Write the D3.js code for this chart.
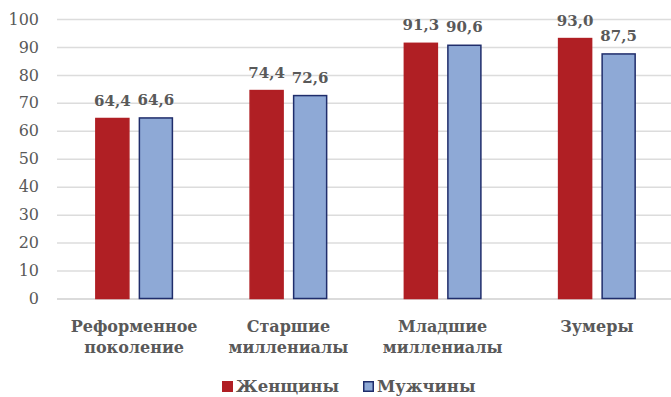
<!DOCTYPE html>
<html>
<head>
<meta charset="utf-8">
<script src="https://cdn.jsdelivr.net/npm/d3@7"></script>
<style>
  html, body { margin: 0; padding: 0; background: #fff; }
  svg { display: block; }
</style>
</head>
<body>
<svg id="chart" width="671" height="397"></svg>
<script>
// Generations and shares for women / men
const categories = [
  ["Реформенное", "поколение"],
  ["Старшие", "миллениалы"],
  ["Младшие", "миллениалы"],
  ["Зумеры"]
];
const women = [64.4, 74.4, 91.3, 93.0];
const men = [64.6, 72.6, 90.6, 87.5];
const seriesNames = ["Женщины", "Мужчины"];
const yTicks = [0, 10, 20, 30, 40, 50, 60, 70, 80, 90, 100];

const W = 671, H = 397;
const margin = { top: 19, right: -3, bottom: 98, left: 57 };
const font = "'DejaVu Serif', serif";
const textColor = "#595959";
const fills = ["#B01F24", "#8EA9D6"];
const strokes = ["#B01F24", "#1F2D6B"];

const svg = d3.select("#chart");
const x0 = d3.scaleBand()
  .domain(d3.range(categories.length))
  .range([margin.left, W - margin.right])
  .paddingInner(0.494)
  .paddingOuter(0.247);
const x1 = d3.scaleBand()
  .domain([0, 1])
  .range([0, x0.bandwidth()])
  .paddingInner(0.207);
const y = d3.scaleLinear().domain([0, 100]).range([H - margin.bottom - 0.5, margin.top]);

// grid lines and tick labels
const yAxis = d3.axisLeft(y).tickValues(yTicks).tickSize(-(W - margin.left)).tickFormat(d3.format("d"));
const gy = svg.append("g").attr("transform", `translate(${margin.left},0)`).call(yAxis);
gy.select(".domain").remove();
gy.selectAll(".tick line").attr("stroke", d => d === 0 ? "#cfcfcf" : "#dcdcdc").attr("stroke-width", 1.5);
gy.selectAll(".tick text")
  .attr("x", -18)
  .attr("fill", textColor)
  .style("font-family", font)
  .style("font-size", "16px");

// bars
const data = categories.map((c, i) => ({ i, vals: [women[i], men[i]] }));
const groups = svg.append("g").selectAll("g").data(data).join("g")
  .attr("transform", d => `translate(${x0(d.i)},0)`);

groups.selectAll("rect").data(d => d.vals.map((v, s) => ({ v, s }))).join("rect")
  .attr("x", d => x1(d.s) + 0.75)
  .attr("width", x1.bandwidth() - 1.5)
  .attr("y", d => y(d.v))
  .attr("height", d => y(0) - y(d.v))
  .attr("fill", d => fills[d.s])
  .attr("stroke", d => strokes[d.s])
  .attr("stroke-width", 1.5);

// value labels
const fmt = v => v.toFixed(1).replace(".", ",");
groups.selectAll("text.val").data(d => d.vals.map((v, s) => ({ v, s }))).join("text")
  .attr("class", "val")
  .attr("x", d => x1(d.s) + x1.bandwidth() / 2)
  .attr("y", d => y(d.v) - 13)
  .attr("text-anchor", "middle")
  .attr("fill", textColor)
  .style("font-family", font)
  .style("font-weight", "bold")
  .style("font-size", "15px")
  .text(d => fmt(d.v));

// category labels
const cat = svg.append("g").selectAll("text").data(categories).join("text")
  .attr("x", (d, i) => x0(i) + x0.bandwidth() / 2)
  .attr("y", 332)
  .attr("text-anchor", "middle")
  .attr("fill", textColor)
  .style("font-family", font)
  .style("font-weight", "bold")
  .style("font-size", "16px");
cat.selectAll("tspan").data(d => d).join("tspan")
  .attr("x", function () { return this.parentNode.getAttribute("x"); })
  .attr("dy", (d, i) => i === 0 ? 0 : 21)
  .text(d => d);

// legend
const legendX = [222, 363];
const leg = svg.append("g").selectAll("g").data(seriesNames).join("g")
  .attr("transform", (d, i) => `translate(${legendX[i]},381)`);
leg.append("rect")
  .attr("x", 0.75).attr("y", 0.75).attr("width", 9.5).attr("height", 9.5)
  .attr("fill", (d, i) => fills[i])
  .attr("stroke", (d, i) => strokes[i])
  .attr("stroke-width", 1.5);
leg.append("text")
  .attr("x", 14).attr("y", 11)
  .attr("fill", textColor)
  .style("font-family", font)
  .style("font-weight", "bold")
  .style("font-size", "16.5px")
  .text(d => d);
</script>
</body>
</html>
